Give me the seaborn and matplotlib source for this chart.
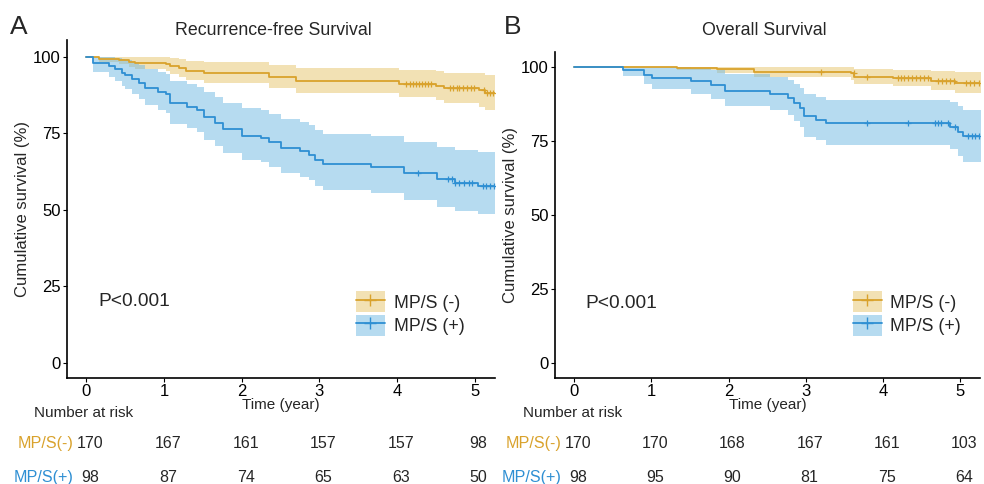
import numpy as np
import pandas as pd
import matplotlib
matplotlib.use("Agg")
import matplotlib.pyplot as plt
import matplotlib.transforms as mtrans
from matplotlib.patches import Patch
from matplotlib.lines import Line2D
import seaborn as sns

# ---- data ----
groups = ["MP/S (-)", "MP/S (+)"]
risk_labels = ["MP/S(-)", "MP/S(+)"]
risk_times = [0, 1, 2, 3, 4, 5]

# panel A: recurrence-free survival
rfs_neg_t = [0, 0.16, 0.42, 0.55, 0.63, 1.02, 1.08, 1.19, 1.28, 1.51, 2.35, 2.70, 4.03, 4.50, 4.61, 5.06, 5.13, 5.26]
rfs_neg_s = [100, 99.3, 99.0, 98.5, 98.1, 97.7, 97.0, 96.3, 95.5, 94.9, 93.5, 92.2, 91.3, 90.6, 89.9, 89.1, 88.3, 88.3]
rfs_neg_lo = [100, 98.2, 97.6, 96.8, 96.2, 95.5, 94.5, 93.5, 92.5, 91.6, 89.8, 88.2, 87.0, 86.0, 85.0, 83.8, 82.6, 82.6]
rfs_neg_hi = [100, 100, 100, 100, 100, 99.9, 99.6, 99.2, 98.7, 98.3, 97.3, 96.3, 95.7, 95.3, 94.9, 94.6, 94.2, 94.2]
rfs_neg_cens = [4.12, 4.17, 4.2, 4.24, 4.28, 4.32, 4.36, 4.4, 4.44, 4.68, 4.72, 4.77, 4.8, 4.85,
                4.9, 4.95, 4.99, 5.12, 5.16, 5.2, 5.24]

rfs_pos_t = [0, 0.08, 0.29, 0.37, 0.46, 0.50, 0.59, 0.675, 0.76, 0.92, 1.02, 1.08, 1.30, 1.43, 1.51, 1.66,
             1.76, 2.01, 2.25, 2.35, 2.50, 2.75, 2.87, 2.94, 3.05, 3.66, 4.09, 4.52, 4.74, 5.04, 5.26]
rfs_pos_s = [100, 97.9, 97.0, 96.0, 94.9, 94.1, 92.8, 91.6, 89.9, 88.6, 87.8, 84.8, 83.7, 82.6, 80.4, 78.5,
             76.3, 74.3, 73.5, 72.1, 70.3, 69.2, 68.1, 66.3, 65.0, 64.1, 62.0, 60.1, 58.8, 57.9, 57.9]
rfs_pos_lo = [100, 95.2, 93.5, 92.2, 90.5, 89.5, 87.8, 86.3, 84.2, 82.6, 81.6, 78.0, 76.8, 75.5, 73.0, 70.9,
              68.5, 66.4, 65.5, 64.0, 62.0, 60.8, 59.7, 57.8, 56.4, 55.4, 53.1, 51.0, 49.5, 48.5, 48.5]
rfs_pos_hi = [100, 100, 100, 99.8, 99.4, 99.0, 98.2, 97.3, 96.0, 95.0, 94.4, 92.0, 91.2, 90.3, 88.5, 86.8,
              84.9, 83.2, 82.5, 81.3, 79.7, 78.7, 77.7, 76.1, 74.9, 74.1, 72.3, 70.6, 69.5, 68.8, 68.8]
rfs_pos_cens = [4.27, 4.66, 4.71, 4.75, 4.8, 4.86, 4.92, 4.97, 5.1, 5.15, 5.2, 5.25]

rfs_risk_neg = [170, 167, 161, 157, 157, 98]
rfs_risk_pos = [98, 87, 74, 65, 63, 50]

# panel B: overall survival
os_neg_t = [0, 1.33, 1.85, 2.33, 3.59, 3.63, 4.13, 4.63, 4.93, 5.28]
os_neg_s = [100, 99.7, 99.2, 98.3, 97.8, 96.6, 96.1, 95.3, 94.6, 94.6]
os_neg_lo = [100, 98.9, 98.0, 96.4, 95.6, 94.0, 93.3, 92.2, 91.0, 91.0]
os_neg_hi = [100, 100, 100, 100, 100, 99.3, 99.0, 98.5, 98.3, 98.3]
os_neg_cens = [3.2, 3.62, 3.8, 4.2, 4.24, 4.28, 4.33, 4.38, 4.43, 4.48, 4.53, 4.58, 4.72, 4.77,
               4.82, 4.87, 4.92, 5.08, 5.13, 5.18, 5.24]

os_pos_t = [0, 0.63, 0.91, 1.01, 1.51, 1.77, 1.95, 2.54, 2.77, 2.85, 2.93, 2.98, 3.13, 3.26, 4.87, 4.98, 5.04, 5.28]
os_pos_s = [100, 98.9, 97.2, 96.1, 95.0, 93.8, 91.9, 90.8, 89.3, 87.7, 86.0, 83.2, 82.1, 80.9, 79.8, 78.1, 76.5, 76.5]
os_pos_lo = [100, 96.9, 94.2, 92.3, 90.7, 89.1, 86.7, 85.4, 83.6, 81.7, 79.6, 76.4, 75.1, 73.7, 72.2, 70.0, 68.0, 68.0]
os_pos_hi = [100, 100, 100, 100, 99.5, 98.8, 97.4, 96.6, 95.5, 94.2, 92.9, 90.7, 89.8, 88.8, 88.2, 86.8, 85.4, 85.4]
os_pos_cens = [3.8, 4.33, 4.67, 4.72, 4.76, 4.85, 4.93, 5.1, 5.15, 5.2, 5.25]

os_risk_neg = [170, 170, 168, 167, 161, 103]
os_risk_pos = [98, 95, 90, 81, 75, 64]

ORANGE = "#D9A22C"
BLUE = "#2E8FD3"
ORANGE_FILL = "#E6C56A"
BLUE_FILL = "#6FB9E3"

sns.set_style("white")
plt.rcParams["font.family"] = ["Liberation Sans", "DejaVu Sans"]

fig = plt.figure(figsize=(9.84, 4.84), dpi=100)
axA = fig.add_axes([0.068, 0.219, 0.435, 0.698])
axB = fig.add_axes([0.564, 0.219, 0.432, 0.674])


def draw_curve(ax, t, s, lo, hi, cens, color, fill):
    df = pd.DataFrame({"time": t, "surv": s})
    ax.fill_between(t, lo, hi, step="post", color=fill, alpha=0.5, lw=0)
    sns.lineplot(data=df, x="time", y="surv", ax=ax, color=color, lw=1.3,
                 drawstyle="steps-post", estimator=None, sort=False)
    idx = np.searchsorted(t, cens, side="right") - 1
    cdf = pd.DataFrame({"time": cens, "surv": np.asarray(s)[idx]})
    sns.scatterplot(data=cdf, x="time", y="surv", ax=ax, color=color, marker="+",
                    s=16, linewidth=0.9)


def style_axes(ax, ylim, title_x, title, letter, letter_x, risk_neg, risk_pos, lab_x, legend_x):
    ax.set_xlim(-0.25, 5.26)
    ax.set_ylim(*ylim)
    ax.set_xticks(risk_times)
    ax.set_yticks([0, 25, 50, 75, 100])
    ax.tick_params(axis="both", labelsize=12, length=3, width=0.8, direction="out",
                   left=True, bottom=True, colors="black", pad=1.5)
    sns.despine(ax=ax)
    for sp in ["left", "bottom"]:
        ax.spines[sp].set_color("black")
        ax.spines[sp].set_linewidth(1.2)
    ax.set_xlabel("Time (year)", fontsize=11, labelpad=-1)
    ax.set_ylabel("Cumulative survival (%)", fontsize=12, labelpad=2)
    ax.text(0.15, 20, "P<0.001", fontsize=13.8, ha="left", va="center")

    fig.text(title_x, 0.938, title, fontsize=12.8, ha="center", va="center")
    fig.text(letter_x, 0.945, letter, fontsize=19, ha="left", va="center")

    handles = [
        (Patch(facecolor=ORANGE_FILL, alpha=0.5, lw=0), Line2D([], [], color=ORANGE, lw=1.3, marker="+", ms=8)),
        (Patch(facecolor=BLUE_FILL, alpha=0.5, lw=0), Line2D([], [], color=BLUE, lw=1.3, marker="+", ms=8)),
    ]
    fig.legend(handles, groups, loc="upper left", bbox_to_anchor=(legend_x, 0.398),
               frameon=False, fontsize=12.8, handlelength=1.6, handleheight=1.45,
               handletextpad=0.5, labelspacing=0.12, borderpad=0, borderaxespad=0)

    tr = mtrans.blended_transform_factory(ax.transData, fig.transFigure)
    fig.text(lab_x - 0.04, 0.146, "Number at risk", fontsize=11, ha="left", va="center")
    for row, (lab, vals, col) in enumerate(zip(risk_labels, [risk_neg, risk_pos], [ORANGE, BLUE])):
        y = 0.084 - row * 0.07
        fig.text(lab_x, y, lab, fontsize=11.6, ha="right", va="center", color=col)
        for tt, v in zip(risk_times, vals):
            ax.text(tt + 0.05, y, str(v), transform=tr, fontsize=11.5, ha="center", va="center",
                    clip_on=False)


draw_curve(axA, rfs_neg_t, rfs_neg_s, rfs_neg_lo, rfs_neg_hi, rfs_neg_cens, ORANGE, ORANGE_FILL)
draw_curve(axA, rfs_pos_t, rfs_pos_s, rfs_pos_lo, rfs_pos_hi, rfs_pos_cens, BLUE, BLUE_FILL)
draw_curve(axB, os_neg_t, os_neg_s, os_neg_lo, os_neg_hi, os_neg_cens, ORANGE, ORANGE_FILL)
draw_curve(axB, os_pos_t, os_pos_s, os_pos_lo, os_pos_hi, os_pos_cens, BLUE, BLUE_FILL)

style_axes(axA, (-5, 105.5), 0.278, "Recurrence-free Survival", "A", 0.010,
           rfs_risk_neg, rfs_risk_pos, 0.075, 0.362)
style_axes(axB, (-5, 105), 0.777, "Overall Survival", "B", 0.512,
           os_risk_neg, os_risk_pos, 0.571, 0.867)

fig.savefig("out.png", dpi=100)
